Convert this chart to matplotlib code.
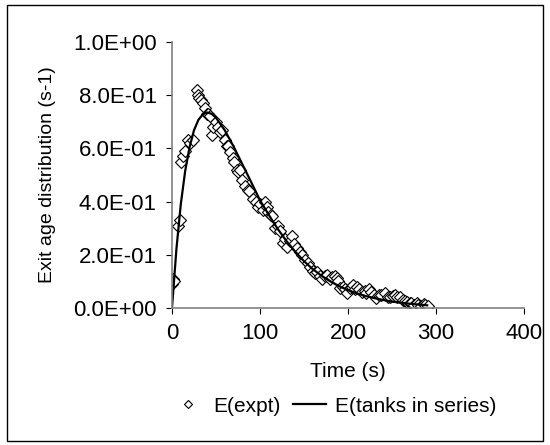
import matplotlib.pyplot as plt
from matplotlib.patches import Rectangle

plt.rcParams['font.family'] = ['Liberation Sans', 'DejaVu Sans']

# measured E(t) points
t_expt = [0, 1, 2, 7, 9, 10, 12, 15, 18, 21, 24, 28, 30, 31, 33, 35, 38, 40, 41, 43,
          45, 47, 50, 52, 55, 57, 60, 62, 64, 66, 69, 71, 74, 75, 77, 80, 83, 86, 88, 92,
          95, 98, 100, 103, 106, 108, 109, 112, 114, 117, 120, 123, 126, 128, 131, 134,
          136, 139, 142, 145, 148, 151, 154, 157, 160, 162, 165, 168, 171, 174, 176, 179,
          182, 185, 187, 189, 191, 194, 197, 199, 202, 204, 206, 208, 210, 213, 216, 219,
          221, 224, 226, 229, 232, 235, 238, 242, 245, 248, 251, 253, 256, 259, 262, 265,
          267, 270, 272, 275, 278, 280, 283, 286, 288, 291]
e_expt = [0.09, 0.11, 0.10, 0.31, 0.33, 0.55, 0.57, 0.59, 0.63, 0.62, 0.63, 0.82, 0.80,
          0.79, 0.78, 0.77, 0.75, 0.73, 0.73, 0.72, 0.65, 0.68, 0.70, 0.68, 0.66, 0.67,
          0.63, 0.61, 0.61, 0.585, 0.565, 0.55, 0.52, 0.51, 0.52, 0.48, 0.46, 0.445, 0.44,
          0.41, 0.40, 0.38, 0.39, 0.37, 0.40, 0.38, 0.36, 0.35, 0.345, 0.30, 0.31, 0.29,
          0.245, 0.26, 0.23, 0.25, 0.27, 0.24, 0.225, 0.21, 0.20, 0.18, 0.17, 0.155, 0.14,
          0.13, 0.135, 0.12, 0.11, 0.12, 0.125, 0.11, 0.115, 0.12, 0.113, 0.10, 0.075,
          0.08, 0.07, 0.057, 0.075, 0.08, 0.087, 0.07, 0.08, 0.07, 0.06, 0.065, 0.057,
          0.07, 0.06, 0.05, 0.038, 0.05, 0.05, 0.057, 0.042, 0.04, 0.045, 0.049, 0.04,
          0.042, 0.03, 0.025, 0.023, 0.02, 0.019, 0.01, 0.019, 0.012, 0.008, 0.015, 0.01,
          0.008]

# tanks in series model curve
t_model = [0, 5, 10, 15, 20, 25, 30, 35, 40, 45, 50, 60, 70, 80, 90, 100, 110, 120, 130,
           140, 150, 160, 170, 180, 190, 200, 210, 220, 230, 240, 250, 260, 270, 280, 290]
e_model = [0.0, 0.22, 0.39, 0.515, 0.605, 0.668, 0.707, 0.728, 0.735, 0.73, 0.715, 0.668,
           0.607, 0.54, 0.473, 0.405, 0.35, 0.298, 0.252, 0.212, 0.176, 0.146, 0.121,
           0.1, 0.082, 0.067, 0.055, 0.045, 0.037, 0.03, 0.024, 0.02, 0.016, 0.013, 0.01]

yticks = [0.0, 0.2, 0.4, 0.6, 0.8, 1.0]
ytick_labels = ['0.0E+00', '2.0E-01', '4.0E-01', '6.0E-01', '8.0E-01', '1.0E+00']

fig = plt.figure(figsize=(5.5, 4.45), dpi=100)
fig.patches.append(Rectangle((0.012, 0.01), 0.976, 0.978, transform=fig.transFigure,
                             fill=False, edgecolor='black', linewidth=1.0))

ax = fig.add_axes([0.3127, 0.3079, 0.64, 0.5978])
ax.plot(t_expt, e_expt, linestyle='none', marker='D', markersize=6,
        markerfacecolor='white', markeredgecolor='black', markeredgewidth=0.8,
        label='E(expt)')
ax.plot(t_model, e_model, color='black', linewidth=1.6, label='E(tanks in series)')

ax.set_xlim(0, 400)
ax.set_ylim(0, 1.0)
ax.set_xticks([0, 100, 200, 300, 400])
ax.set_yticks(yticks)
ax.set_yticklabels(ytick_labels)
ax.tick_params(direction='out', length=4, labelsize=16, colors='black', pad=7)
ax.spines['top'].set_visible(False)
ax.spines['right'].set_visible(False)
for s in ['left', 'bottom']:
    ax.spines[s].set_color('#808080')
    ax.spines[s].set_linewidth(1.2)
ax.set_xlabel('Time (s)', fontsize=15, labelpad=13)
ax.set_ylabel('Exit age distribution (s-1)', fontsize=14, labelpad=12)
ax.set_clip_on(False)

fig.legend(loc='center', bbox_to_anchor=(0.607, 0.087), ncol=2, frameon=False,
           fontsize=15, handlelength=1.6, columnspacing=0.6, handletextpad=0.4,
           markerscale=0.7)

fig.savefig('out.png', dpi=100)
